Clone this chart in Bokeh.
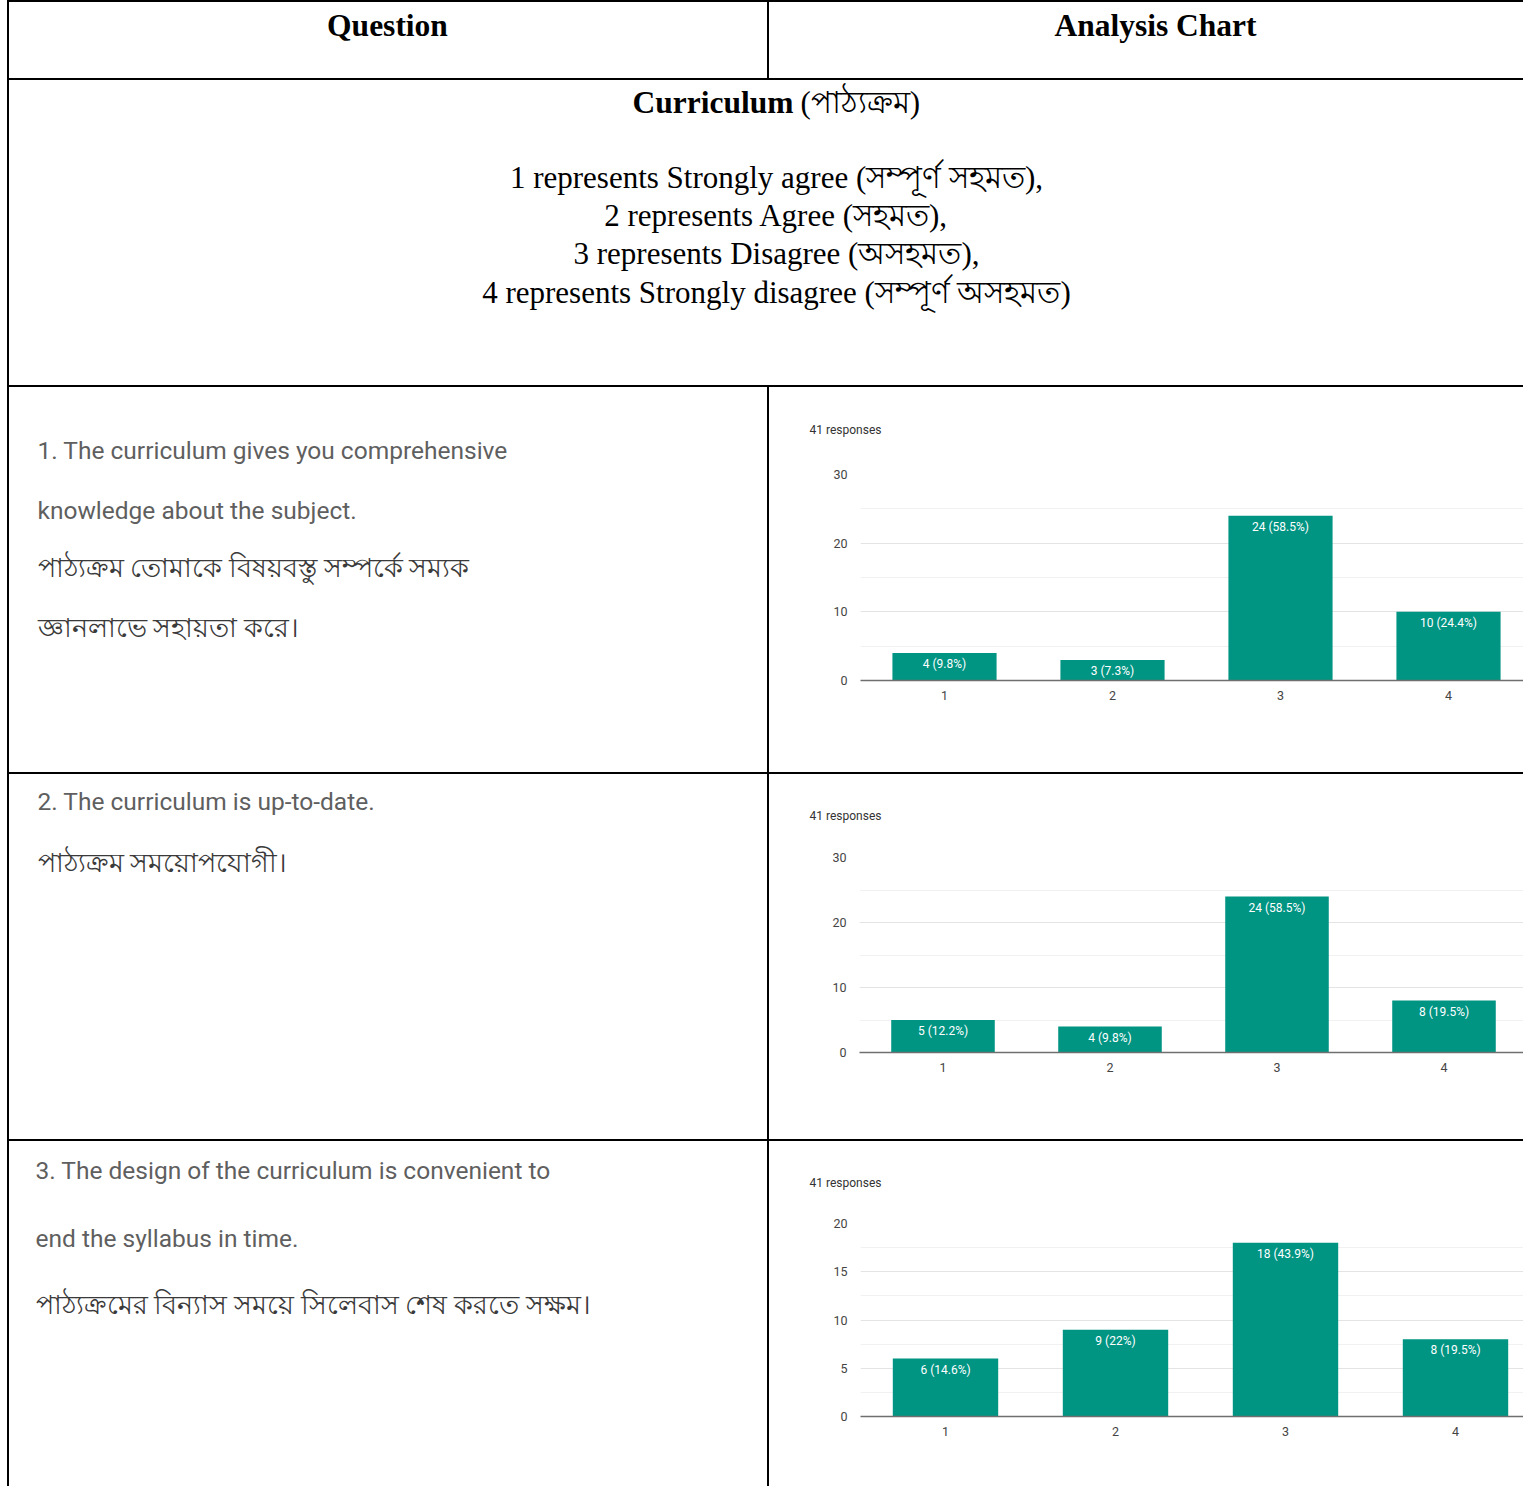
from bokeh.plotting import figure
from bokeh.layouts import column, row
from bokeh.models import Spacer, Range1d, FixedTicker, Title
from bokeh.core.properties import value
from bokeh.embed import file_html
from bokeh.resources import INLINE

# ---------------- data ----------------
header_texts = ["Question", "Analysis Chart"]
section_title = "Curriculum"
section_title_bn = "(পাঠ্যক্রম)"
scale_lines = [
    "1 represents Strongly agree (সম্পূর্ণ সহমত),",
    "2 represents Agree (সহমত),",
    "3 represents Disagree (অসহমত),",
    "4 represents Strongly disagree (সম্পূর্ণ অসহমত)",
]
q1_lines = [
    "1. The curriculum gives you comprehensive",
    "knowledge about the subject.",
    "পাঠ্যক্রম তোমাকে বিষয়বস্তু সম্পর্কে সম্যক",
    "জ্ঞানলাভে সহায়তা করে।",
]
q2_lines = [
    "2. The curriculum is up-to-date.",
    "পাঠ্যক্রম সময়োপযোগী।",
]
q3_lines = [
    "3. The design of the curriculum is convenient to",
    "end the syllabus in time.",
    "পাঠ্যক্রমের বিন্যাস সময়ে সিলেবাস শেষ করতে সক্ষম।",
]
responses_label = "41 responses"
categories = [1, 2, 3, 4]
q1_counts = [4, 3, 24, 10]
q1_bar_labels = ["4 (9.8%)", "3 (7.3%)", "24 (58.5%)", "10 (24.4%)"]
q2_counts = [5, 4, 24, 8]
q2_bar_labels = ["5 (12.2%)", "4 (9.8%)", "24 (58.5%)", "8 (19.5%)"]
q3_counts = [6, 9, 18, 8]
q3_bar_labels = ["6 (14.6%)", "9 (22%)", "18 (43.9%)", "8 (19.5%)"]
q12_yticks = [0, 10, 20, 30]
q12_yminor = [5, 15, 25]
q3_yticks = [0, 5, 10, 15, 20]
q3_yminor = [2.5, 7.5, 12.5, 17.5]

# ---------------- styling ----------------
TEAL = "#009483"
SERIF = "Liberation Serif"
SANS = "Roboto"
Q_EN_COLOR = "#5f5f5f"
Q_BN_COLOR = "#3a3a3a"
PAD_L = 7
BORDER = 2
W_L, W_R = 758, 754
INNER_W = BORDER + W_L + BORDER + W_R   # 1516
H0, H1, H2, H3, H4 = 76, 305, 385, 365, 345
TOTAL_H = BORDER * 5 + H0 + H1 + H2 + H3 + H4


def vsep(h):
    return Spacer(width=BORDER, height=h, styles={"background-color": "black"})


def hsep(w=INNER_W):
    return Spacer(width=w, height=BORDER, styles={"background-color": "black"})


def text_cell(w, h):
    p = figure(width=w, height=h, x_range=Range1d(0, w), y_range=Range1d(h, 0),
               output_backend="svg", toolbar_location=None, min_border=0,
               x_axis_location=None, y_axis_location=None, frame_align=False,
               outline_line_color=None, background_fill_color="white",
               border_fill_color="white")
    p.grid.grid_line_color = None
    return p


def chart_cell(w, h, counts, labels, yticks, yminor, left, top, bottom, spacing,
               title_standoff, title_dx):
    x_end = 0.5 + (w - left) / spacing
    p = figure(width=w, height=h, x_range=Range1d(0.5, x_end),
               y_range=Range1d(0, yticks[-1]),
               output_backend="svg", toolbar_location=None, frame_align=False,
               min_border_left=left, min_border_right=0,
               min_border_top=top, min_border_bottom=bottom,
               outline_line_color=None, background_fill_color="white",
               border_fill_color="white")
    p.add_layout(Title(text=responses_label, align="left", offset=title_dx,
                       standoff=title_standoff, vertical_align="top",
                       text_font_size="12px", text_font_style="normal",
                       text_color="#333333", text_font=SANS), "above")
    p.xgrid.grid_line_color = None
    p.ygrid.ticker = FixedTicker(ticks=yticks, minor_ticks=yminor)
    p.ygrid.grid_line_color = "#e4e4e4"
    p.ygrid.minor_grid_line_color = "#f1f1f1"

    p.yaxis.ticker = FixedTicker(ticks=yticks)
    p.yaxis.axis_line_color = None
    p.yaxis.major_tick_line_color = None
    p.yaxis.minor_tick_line_color = None
    p.yaxis.major_tick_out = 0
    p.yaxis.major_tick_in = 0
    p.yaxis.major_label_standoff = 13
    p.yaxis.major_label_text_font_size = "12.5px"
    p.yaxis.major_label_text_color = "#444444"
    p.yaxis.major_label_text_font = SANS

    p.xaxis.ticker = FixedTicker(ticks=categories)
    p.xaxis.axis_line_color = "#6f6f6f"
    p.xaxis.axis_line_width = 1.6
    p.xaxis.major_tick_line_color = None
    p.xaxis.minor_tick_line_color = None
    p.xaxis.major_tick_out = 0
    p.xaxis.major_tick_in = 0
    p.xaxis.major_label_standoff = 10
    p.xaxis.major_label_text_font_size = "12.5px"
    p.xaxis.major_label_text_color = "#444444"
    p.xaxis.major_label_text_font = SANS

    p.vbar(x=categories, top=counts, bottom=0, width=0.62, fill_color=TEAL,
           line_color=None)
    p.text(x=categories, y=counts, text=labels, text_align="center",
           text_baseline="top", y_offset=4, text_color="white",
           text_font_size="12px", text_font=value(SANS))
    return p


# ---------------- header row ----------------
hl = text_cell(W_L, H0)
hl.text(x=[378], y=[23], text=[header_texts[0]], text_align="center",
        text_baseline="middle", text_font=value(SERIF), text_font_style="bold",
        text_font_size="31.5px", text_color="black")
hr = text_cell(W_R, H0)
hr.text(x=[386], y=[23], text=[header_texts[1]], text_align="center",
        text_baseline="middle", text_font=value(SERIF), text_font_style="bold",
        text_font_size="31.5px", text_color="black")

# ---------------- curriculum row ----------------
W_FULL = INNER_W - BORDER
cur = text_cell(W_FULL, H1)
cur.text(x=[784], y=[22], text=[section_title], text_align="right",
         text_baseline="middle", text_font=value(SERIF), text_font_style="bold",
         text_font_size="31.5px", text_color="black")
cur.text(x=[791], y=[22], text=[section_title_bn], text_align="left",
         text_baseline="middle", text_font=value(SERIF),
         text_font_size="31px", text_color="black")
cur.text(x=[767] * len(scale_lines), y=[97, 135, 173, 212], text=scale_lines,
         text_align="center", text_baseline="middle", text_font=value(SERIF),
         text_font_size="31px", text_color="black")


def is_bengali(s):
    return any("\u0980" <= ch <= "\u09ff" for ch in s)


def question_cell(h, lines, ys, x0):
    p = text_cell(W_L, h)
    en = [(y, s) for y, s in zip(ys, lines) if not is_bengali(s)]
    bn = [(y, s) for y, s in zip(ys, lines) if is_bengali(s)]
    if en:
        p.text(x=[x0] * len(en), y=[e[0] for e in en], text=[e[1] for e in en],
               text_align="left", text_baseline="middle", text_font=value(SANS),
               text_font_size="24.5px", text_color=Q_EN_COLOR)
    if bn:
        p.text(x=[x0] * len(bn), y=[b[0] for b in bn], text=[b[1] for b in bn],
               text_align="left", text_baseline="middle", text_font=value(SANS),
               text_font_size="27px", text_color=Q_BN_COLOR)
    return p


# ---------------- question rows ----------------
q1l = question_cell(H2, q1_lines, [63, 123, 180, 240], 28)
q1r = chart_cell(W_R, H2, q1_counts, q1_bar_labels, q12_yticks, q12_yminor,
                 left=91, top=86, bottom=92, spacing=168,
                 title_standoff=71, title_dx=-51)
q2l = question_cell(H3, q2_lines, [27, 88], 28)
q2r = chart_cell(W_R, H3, q2_counts, q2_bar_labels, q12_yticks, q12_yminor,
                 left=90, top=83, bottom=87, spacing=167,
                 title_standoff=66, title_dx=-50)
q3l = question_cell(H4, q3_lines, [29, 97, 163], 26)
q3r = chart_cell(W_R, H4, q3_counts, q3_bar_labels, q3_yticks, q3_yminor,
                 left=91, top=82, bottom=70, spacing=170,
                 title_standoff=64, title_dx=-51)

table = column(
    hsep(),
    row(vsep(H0), hl, vsep(H0), hr),
    hsep(),
    row(vsep(H1), cur),
    hsep(),
    row(vsep(H2), q1l, vsep(H2), q1r),
    hsep(),
    row(vsep(H3), q2l, vsep(H3), q2r),
    hsep(),
    row(vsep(H4), q3l, vsep(H4), q3r),
)
page = row(Spacer(width=PAD_L, height=TOTAL_H), table)

open("out.html", "w").write(file_html(page, INLINE))
